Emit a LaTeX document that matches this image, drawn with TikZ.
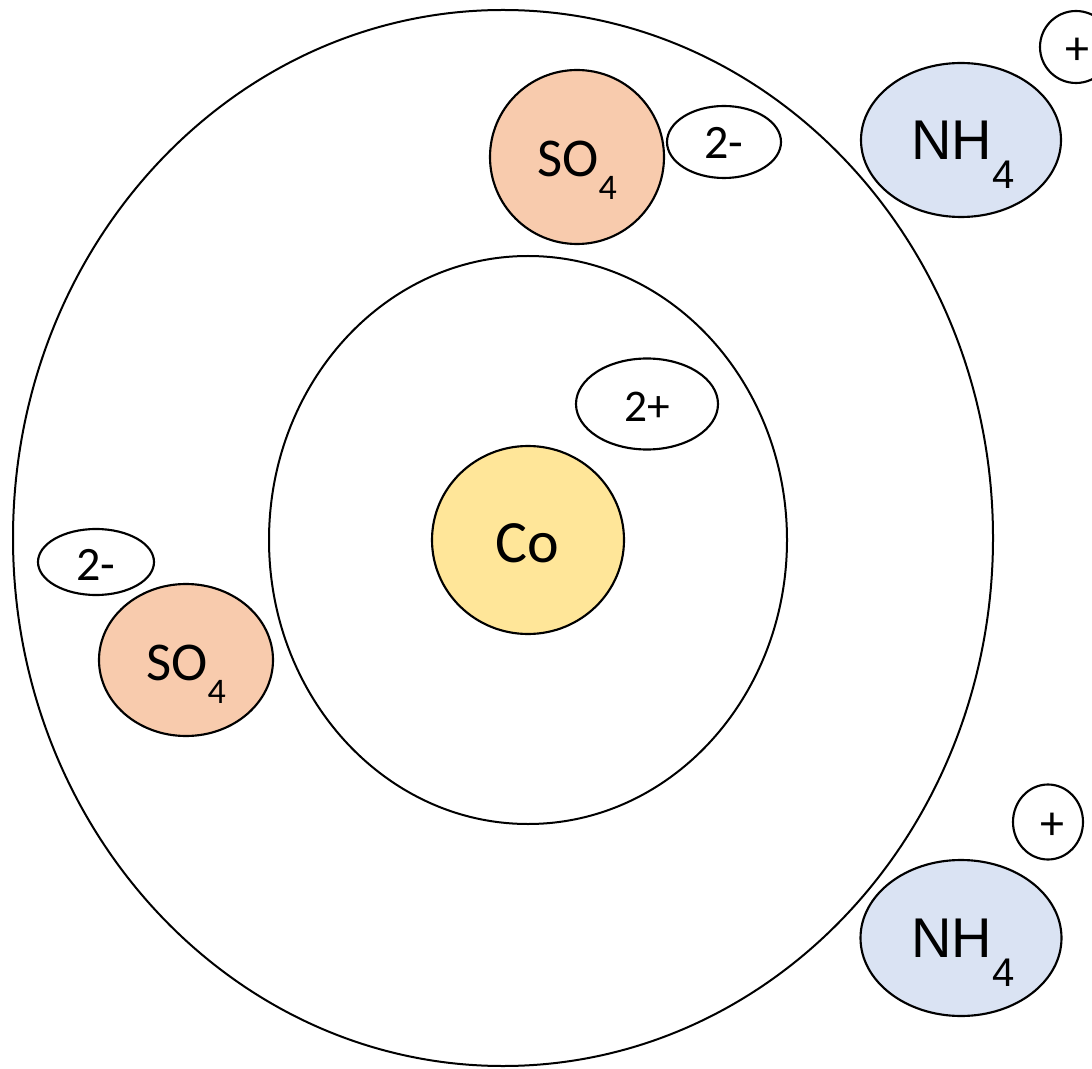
\documentclass[tikz,border=0pt]{standalone}
\usepackage{fontspec}
\usetikzlibrary{shapes.geometric}
\newfontfamily\calfont{Carlito}
\newfontfamily\arifont{Liberation Sans}
\definecolor{sulfate}{HTML}{F8CBAD}
\definecolor{ammonium}{HTML}{DAE3F3}
\definecolor{cobalt}{HTML}{FFE699}
\tikzset{
  ring/.style={draw, line width=1.5pt},
  ion/.style={ellipse, draw, line width=1.6pt, inner sep=0pt},
  txt/.style={inner sep=0pt, outer sep=0pt},
}
\newcommand{\fs}[1]{\fontsize{#1}{#1}\selectfont}
\begin{document}
\begin{tikzpicture}[x=0.75pt, y=-0.75pt]
\useasboundingbox (0,0) rectangle (1092,1069);
% coordination spheres
\draw[ring] (503,538) ellipse [x radius=490, y radius=528];
\draw[ring] (528,540) ellipse [x radius=259, y radius=284];
% central metal ion
\node[ion, fill=cobalt, minimum width=192*0.75pt, minimum height=188*0.75pt] (co) at (528,540) {};
\node[txt, font=\calfont\fs{45pt}] (cot) at (527,543) {Co};
\node[ion, minimum width=142*0.75pt, minimum height=91*0.75pt] (cochg) at (647,404) {};
\node[txt, font=\calfont\fs{34pt}] (cochgt) at (647,407) {2+};
% sulfate, top
\node[ion, fill=sulfate, minimum width=174*0.75pt, minimum height=174*0.75pt] (so1) at (577,157) {};
\node[txt, font=\calfont\fs{41pt}] (so1t) at (577,170) {SO\raisebox{-0.42em}{\fs{27pt}4}};
\node[ion, minimum width=114*0.75pt, minimum height=72*0.75pt] (so1c) at (724,142) {};
\node[txt, font=\calfont\fs{36pt}] (so1ct) at (724,143) {2-};
% sulfate, left
\node[ion, fill=sulfate, minimum width=174*0.75pt, minimum height=152*0.75pt] (so2) at (186,660) {};
\node[txt, font=\calfont\fs{41pt}] (so2t) at (186,674) {SO\raisebox{-0.42em}{\fs{27pt}4}};
\node[ion, minimum width=116*0.75pt, minimum height=66*0.75pt] (so2c) at (96,562) {};
\node[txt, font=\calfont\fs{36pt}] (so2ct) at (96,565) {2-};
% ammonium, top
\node[ion, fill=ammonium, minimum width=200*0.75pt, minimum height=154*0.75pt] (nh1) at (961,140) {};
\node[txt, font=\arifont\fs{42pt}] (nh1t) at (963,155) {NH\raisebox{-0.52em}{\fs{30pt}4}};
\node[ion, minimum width=72*0.75pt, minimum height=72*0.75pt] (nh1c) at (1076,47) {};
\node[txt, font=\calfont\fs{36pt}] (nh1ct) at (1077,51) {+};
% ammonium, bottom
\node[ion, fill=ammonium, minimum width=201*0.75pt, minimum height=156*0.75pt] (nh2) at (961,938) {};
\node[txt, font=\arifont\fs{42pt}] (nh2t) at (963,953) {NH\raisebox{-0.52em}{\fs{30pt}4}};
\node[ion, minimum width=70*0.75pt, minimum height=75*0.75pt] (nh2c) at (1048,822) {};
\node[txt, font=\calfont\fs{36pt}] (nh2ct) at (1052,826) {+};
\end{tikzpicture}
\end{document}
